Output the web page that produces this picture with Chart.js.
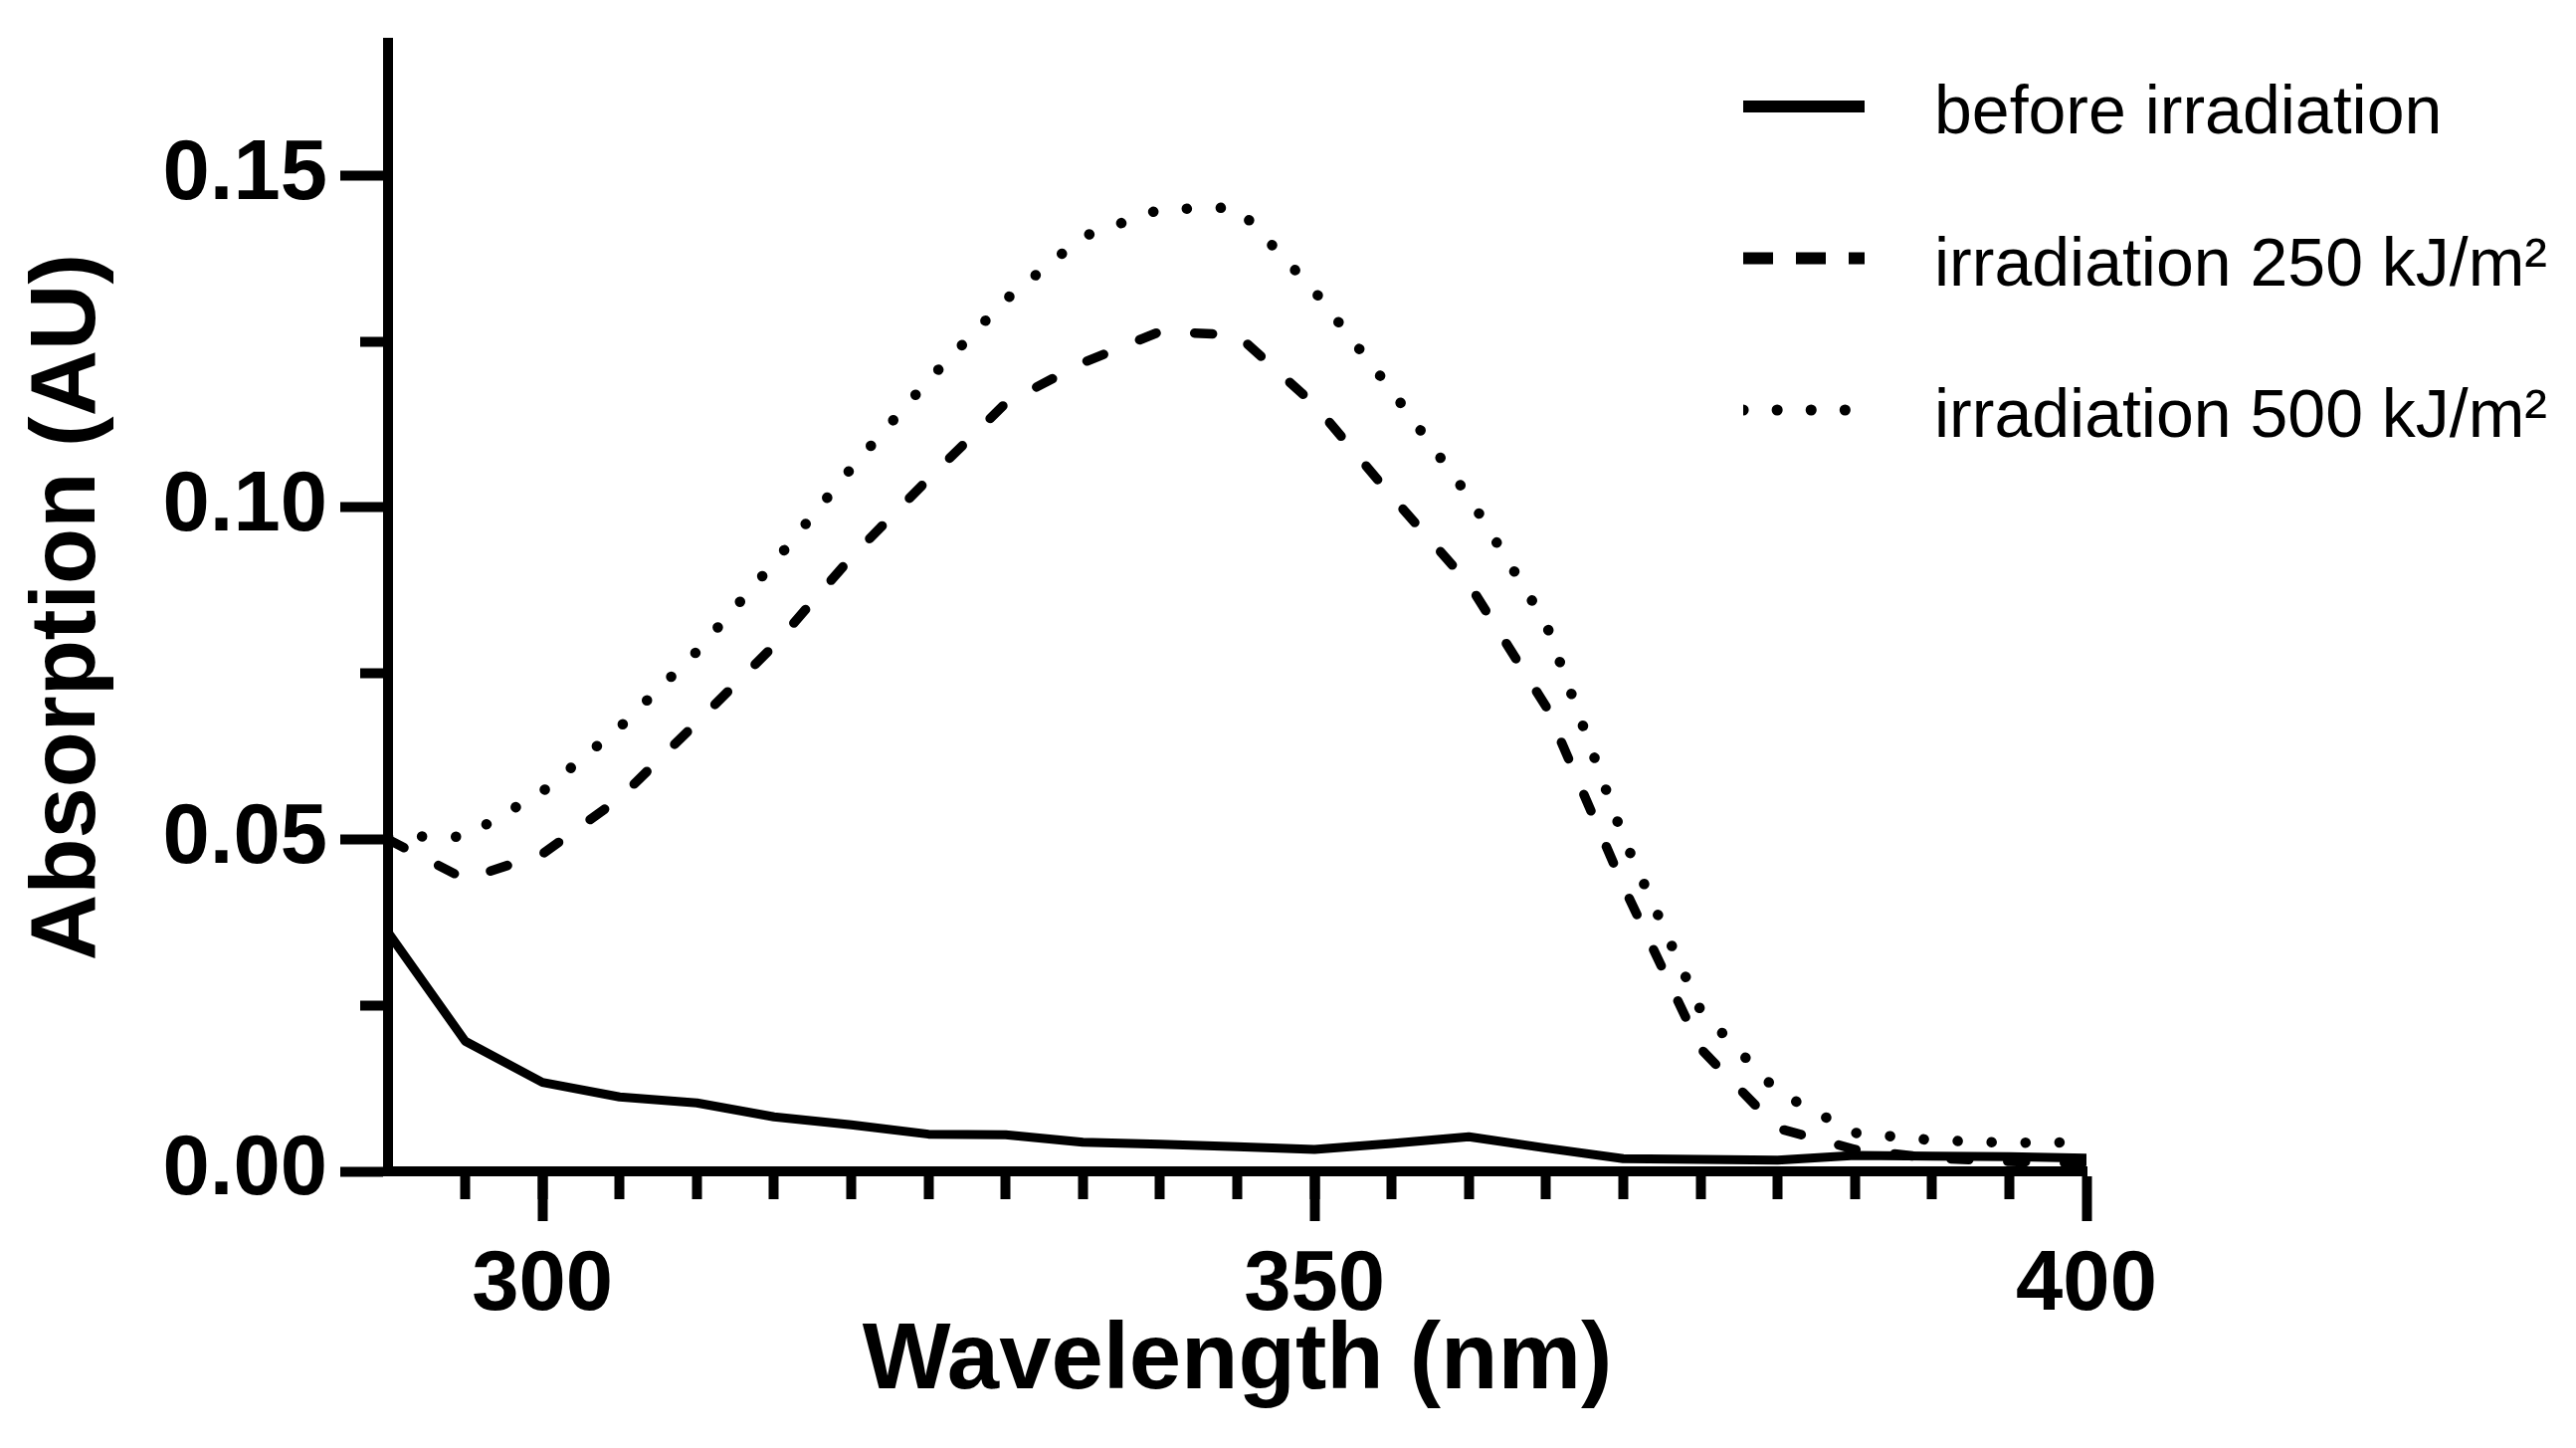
<!DOCTYPE html>
<html>
<head>
<meta charset="utf-8">
<title>Absorption spectra</title>
<script src="https://cdn.jsdelivr.net/npm/chart.js@4.4.1/dist/chart.umd.min.js"></script>
<style>
  html, body { margin: 0; padding: 0; background: #fff; }
  #wrap { width: 2589px; height: 1455px; position: relative; }
</style>
</head>
<body>
<div id="wrap"><canvas id="spectrum"></canvas></div>
<script>
// ===== DATA =====
const wavelengths = [290, 295, 300, 305, 310, 315, 320, 325, 330, 335, 340, 345,
                     350, 355, 360, 365, 370, 375, 380, 385, 390, 395, 400];

const beforeIrr = [0.0360, 0.0196, 0.0134, 0.0112, 0.0103, 0.0082, 0.0070, 0.0056,
                   0.0055, 0.0044, 0.0041, 0.0037, 0.0033, 0.0042, 0.0052, 0.0035,
                   0.0019, 0.0018, 0.0017, 0.0024, 0.0023, 0.0022, 0.0020];

const irr250 = [0.0500, 0.0440, 0.0478, 0.0562, 0.0676, 0.0792, 0.0925, 0.1043,
                0.1157, 0.1218, 0.1265, 0.1260, 0.1155, 0.1017, 0.0885, 0.0700,
                0.0430, 0.0185, 0.0065, 0.0033, 0.0020, 0.0015, 0.0012];

const irr500 = [0.0505, 0.0504, 0.0572, 0.0669, 0.0783, 0.0917, 0.1059, 0.1192,
                0.1313, 0.1408, 0.1449, 0.1452, 0.1326, 0.1176, 0.1016, 0.0825,
                0.0503, 0.0243, 0.0120, 0.0058, 0.0047, 0.0043, 0.0044];

const seriesLabels = ['before irradiation', 'irradiation 250 kJ/m²', 'irradiation 500 kJ/m²'];

// ===== TICKS =====
const xTicks = [300, 350, 400];
const xMinorTicks = [295, 300, 305, 310, 315, 320, 325, 330, 335, 340, 345, 350,
                     355, 360, 365, 370, 375, 380, 385, 390, 395];
const yTicks = [0, 0.05, 0.10, 0.15];
const yMinorTicks = [0.025, 0.075, 0.125];

const toPoints = vals => vals.map((v, i) => ({ x: wavelengths[i], y: v }));
const setTicks = list => scale => { scale.ticks = list.map(v => ({ value: v })); };

Chart.defaults.font.family = "'Liberation Sans', Arial, sans-serif";
Chart.defaults.color = '#000';

// ===== LEGEND (inside plot, top right) =====
const insideLegend = {
  id: 'insideLegend',
  afterDatasetsDraw(chart, args, opts) {
    const ctx = chart.ctx;
    chart.data.datasets.forEach((ds, i) => {
      const y = opts.top + i * opts.rowGap;
      const st = opts.samples[i];

      ctx.save();
      ctx.beginPath();
      ctx.rect(opts.left, y - 20, opts.sampleWidth, 40);
      ctx.clip();
      ctx.beginPath();
      ctx.strokeStyle = ds.borderColor;
      ctx.lineWidth = st.width;
      ctx.lineCap = st.cap;
      ctx.setLineDash(st.dash);
      ctx.moveTo(opts.left, y);
      ctx.lineTo(opts.left + opts.sampleWidth, y);
      ctx.stroke();
      ctx.restore();

      ctx.save();
      ctx.fillStyle = '#000';
      ctx.font = opts.fontSize + "px 'Liberation Sans', Arial, sans-serif";
      ctx.textAlign = 'left';
      ctx.textBaseline = 'alphabetic';
      ctx.fillText(ds.label, opts.textLeft, y + opts.baselineShift);
      ctx.restore();
    });
  }
};

// ===== CHART =====
new Chart(document.getElementById('spectrum'), {
  type: 'line',
  data: {
    datasets: [
      {
        label: seriesLabels[0],
        data: toPoints(beforeIrr),
        borderColor: '#000',
        borderWidth: 9,
        borderJoinStyle: 'round',
        pointRadius: 0,
        tension: 0
      },
      {
        label: seriesLabels[1],
        data: toPoints(irr250),
        borderColor: '#000',
        borderWidth: 9.5,
        borderDash: [18, 39],
        borderCapStyle: 'round',
        pointRadius: 0,
        tension: 0
      },
      {
        label: seriesLabels[2],
        data: toPoints(irr500),
        borderColor: '#000',
        borderWidth: 10.5,
        borderDash: [0.1, 34],
        borderCapStyle: 'round',
        pointRadius: 0,
        tension: 0
      }
    ]
  },
  options: {
    responsive: true,
    maintainAspectRatio: false,
    devicePixelRatio: 1,
    animation: false,
    layout: { padding: { top: 43, right: 492, bottom: 0, left: 0 } },
    plugins: {
      legend: { display: false },
      tooltip: { enabled: false },
      insideLegend: {
        left: 1752,
        sampleWidth: 122,
        textLeft: 1944,
        top: 107,
        rowGap: 152.5,
        baselineShift: 27,
        fontSize: 68,
        samples: [
          { width: 12, cap: 'butt', dash: [] },
          { width: 12, cap: 'butt', dash: [30, 23] },
          { width: 11, cap: 'round', dash: [0.1, 34] }
        ]
      }
    },
    scales: {
      x: {
        type: 'linear',
        position: 'bottom',
        min: 290,
        max: 400,
        bounds: 'data',
        afterBuildTicks: setTicks(xTicks),
        afterFit: s => { s.height = 278; },
        ticks: {
          font: { size: 85, weight: 'bold' },
          color: '#000',
          padding: 15,
          maxRotation: 0,
          autoSkip: false,
          callback: v => String(v)
        },
        grid: { drawOnChartArea: false, tickLength: 50, tickWidth: 10, tickColor: '#000' },
        border: { display: true, width: 10, color: '#000' },
        title: {
          display: true,
          text: 'Wavelength (nm)',
          color: '#000',
          font: { size: 94, weight: 'bold' },
          padding: { top: 0, bottom: 30 }
        }
      },
      xMinor: {
        type: 'linear',
        axis: 'x',
        position: { y: 0 },
        min: 290,
        max: 400,
        bounds: 'data',
        afterBuildTicks: setTicks(xMinorTicks),
        ticks: { display: false },
        grid: { drawOnChartArea: false, tickLength: 28, tickWidth: 10, tickColor: '#000' },
        border: { display: false }
      },
      y: {
        type: 'linear',
        position: 'left',
        min: 0,
        max: 0.17,
        bounds: 'data',
        afterBuildTicks: setTicks(yTicks),
        afterFit: s => { s.width = 390; },
        ticks: {
          font: { size: 85, weight: 'bold', lineHeight: 0.6 },
          color: '#000',
          padding: 13,
          callback: v => v.toFixed(2)
        },
        grid: { drawOnChartArea: false, tickLength: 48, tickWidth: 10, tickColor: '#000' },
        border: { display: true, width: 10, color: '#000' },
        title: {
          display: true,
          text: 'Absorption (AU)',
          color: '#000',
          font: { size: 92, weight: 'bold' },
          padding: { top: 14, bottom: 0 }
        }
      },
      yMinor: {
        type: 'linear',
        axis: 'y',
        position: { x: 290 },
        min: 0,
        max: 0.17,
        bounds: 'data',
        afterBuildTicks: setTicks(yMinorTicks),
        ticks: { display: false },
        grid: { drawOnChartArea: false, tickLength: 28, tickWidth: 10, tickColor: '#000' },
        border: { display: false }
      }
    }
  },
  plugins: [insideLegend]
});
</script>
</body>
</html>
